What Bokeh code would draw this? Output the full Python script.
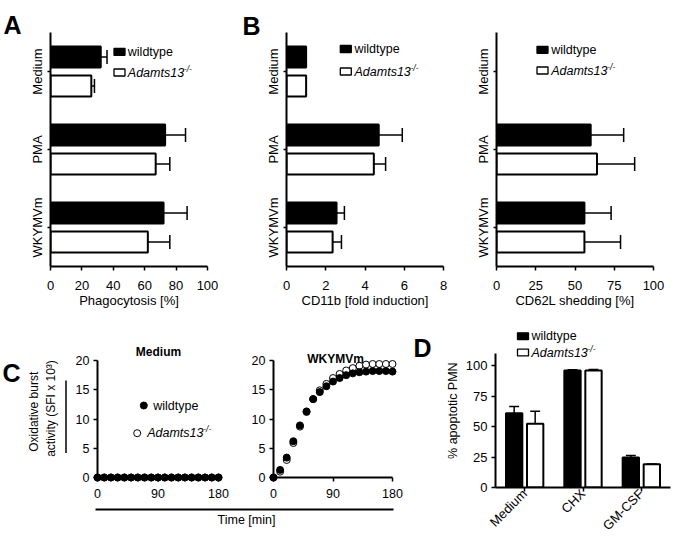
import math
import numpy as np
from bokeh.plotting import figure
from bokeh.models import Range1d, FixedTicker, FactorRange
from bokeh.layouts import row, column
from bokeh.embed import file_html
from bokeh.resources import INLINE
from bokeh.core.properties import value

FONT = "Liberation Sans"

# ---------------- data ----------------
conditions = ["Medium", "PMA", "WKYMVm"]

phago_wt = [32, 73, 72]
phago_wt_err = [4, 13, 15]
phago_ko = [26, 67, 62]
phago_ko_err = [2, 9, 14]

cd11b_wt = [1.0, 4.7, 2.55]
cd11b_wt_err = [0.0, 1.2, 0.4]
cd11b_ko = [1.0, 4.45, 2.35]
cd11b_ko_err = [0.0, 0.6, 0.45]

cd62l_wt = [None, 60, 56]
cd62l_wt_err = [None, 21, 17]
cd62l_ko = [None, 64, 56]
cd62l_ko_err = [None, 24, 23]

time_min = [0, 10, 20, 30, 40, 50, 60, 70, 80, 90, 100, 110, 120, 130, 140, 150, 160, 170, 180]
medium_wt = [0, 0, 0, 0, 0, 0, 0, 0, 0, 0, 0, 0, 0, 0, 0, 0, 0, 0, 0]
medium_ko = [0, 0, 0, 0, 0, 0, 0, 0, 0, 0, 0, 0, 0, 0, 0, 0, 0, 0, 0]
wkymvm_wt = [0, 1.3, 3.4, 6.2, 8.9, 11.3, 13.4, 14.6, 15.6, 16.4, 17.0, 17.5, 17.8, 18.0, 18.1, 18.2, 18.2, 18.2, 18.1]
wkymvm_ko = [0, 1.0, 3.0, 5.9, 8.7, 11.2, 13.4, 14.9, 16.0, 17.0, 17.7, 18.3, 18.7, 19.1, 19.3, 19.4, 19.4, 19.4, 19.4]

apop_cats = ["Medium", "CHX", "GM-CSF"]
apop_wt = [61, 96, 24.7]
apop_wt_err = [5.4, 0.6, 1.6]
apop_ko = [52.3, 96, 19]
apop_ko_err = [10.3, 0.8, 0.3]

ticks_pct = [0, 20, 40, 60, 80, 100]
ticks_fold = [0, 2, 4, 6, 8]
ticks_shed = [0, 25, 50, 75, 100]
ticks_time = [0, 90, 180]
ticks_burst = [0, 5, 10, 15, 20]
ticks_apop = [0, 25, 50, 75, 100]


# ---------------- helpers ----------------
class Conv:
    """page pixel -> data coordinate for a figure whose frame position is known"""
    def __init__(self, px0, px1, x0, x1, py0, py1, y0, y1):
        self.a = (px0, px1, x0, x1, py0, py1, y0, y1)

    def __call__(self, px, py):
        px0, px1, x0, x1, py0, py1, y0, y1 = self.a
        return (x0 + (px - px0) * (x1 - x0) / (px1 - px0),
                y0 + (py - py0) * (y1 - y0) / (py1 - py0))


def make_fig(ox, oy, width, height, fx0, fx1, fy0, fy1, x_range, y_range):
    p = figure(width=width, height=height, x_range=x_range, y_range=y_range,
               output_backend="svg", toolbar_location=None,
               min_border_left=fx0 - ox, min_border_right=ox + width - fx1,
               min_border_top=fy0 - oy, min_border_bottom=oy + height - fy1)
    p.outline_line_color = None
    p.background_fill_color = "white"
    p.border_fill_color = "white"
    return p


def aux_fig(ox, oy, width, height):
    p = figure(width=width, height=height, x_range=Range1d(ox, ox + width),
               y_range=Range1d(oy + height, oy), output_backend="svg",
               toolbar_location=None, x_axis_type=None, y_axis_type=None,
               min_border=0, min_border_left=0, min_border_right=0,
               min_border_top=0, min_border_bottom=0)
    p.outline_line_color = None
    return p


def style_axis(ax, tick_out, standoff, size):
    ax.axis_line_width = 2
    ax.axis_line_color = "black"
    ax.major_tick_line_width = 1.5
    ax.major_tick_line_color = "black"
    ax.major_tick_out = tick_out
    ax.major_tick_in = 0
    ax.minor_tick_line_color = None
    ax.major_label_text_font = FONT
    ax.major_label_text_font_size = size
    ax.major_label_text_color = "black"
    ax.major_label_standoff = standoff
    ax.axis_label_text_font = FONT
    ax.axis_label_text_font_size = "13px"
    ax.axis_label_text_font_style = "normal"
    ax.axis_label_text_color = "black"


def txt(p, conv, px, py, text, size="12.5px", style="normal", align="left",
        baseline="middle", angle=0.0):
    x, y = conv(px, py)
    r = p.text(x=[x], y=[y], text=[text], text_font=value(FONT),
               text_font_size=value(size), text_font_style=value(style),
               text_align=value(align), text_baseline=value(baseline),
               angle=angle, text_color="black")
    r.level = "overlay"


def key_box(p, conv, cx, cy, fill):
    l, t = conv(cx - 5.5, cy - 3.5)
    r, b = conv(cx + 5.5, cy + 3.5)
    g = p.quad(left=[l], right=[r], top=[t], bottom=[b], fill_color=fill,
               line_color="black", line_width=1.3)
    g.level = "overlay"


def ko_label(p, conv, px, py, size="12.5px", sup_dx=56.0):
    txt(p, conv, px, py, "Adamts13", size, style="italic")
    txt(p, conv, px + sup_dx, py - 4, "-/-", "8.5px", style="italic")


# ---------------- top row: horizontal bar panels ----------------
TOP_Y, TOP_H = 0, 312
FY0, FY1 = 32, 266


def bar_panel(ox, width, fx0, xmax, xticks, xlabel, wt, wt_err, ko, ko_err,
              key_x, key_y1, key_y2, text_x):
    fx1 = fx0 + 157
    p = make_fig(ox, TOP_Y, width, TOP_H, fx0, fx1, FY0, FY1,
                 Range1d(0, xmax), Range1d(2.5, -0.5))
    conv = Conv(fx0, fx1, 0, xmax, FY0, FY1, -0.5, 2.5)
    for vals, errs, off, fill in ((wt, wt_err, -0.185, "black"), (ko, ko_err, 0.185, "white")):
        rows = [i for i, v in enumerate(vals) if v is not None]
        ys = [i + off for i in rows]
        vs = [vals[i] for i in rows]
        p.hbar(y=ys, left=0, right=vs, height=0.27, fill_color=fill,
               line_color="black", line_width=2)
        er = [i for i in rows if errs[i]]
        lo = [vals[i] for i in er]
        hi = [vals[i] + errs[i] for i in er]
        ye = [i + off for i in er]
        p.segment(x0=lo, y0=ye, x1=hi, y1=ye, line_color="black", line_width=1.5)
        p.segment(x0=hi, y0=[y - 0.09 for y in ye], x1=hi, y1=[y + 0.09 for y in ye],
                  line_color="black", line_width=1.5)
    xa, ya = p.xaxis[0], p.yaxis[0]
    style_axis(xa, 4, 10, "13px")
    style_axis(ya, 3, 3, "13px")
    xa.ticker = FixedTicker(ticks=xticks)
    xa.axis_label = xlabel
    xa.axis_label_standoff = 0
    ya.ticker = FixedTicker(ticks=list(range(len(conditions))))
    ya.major_label_overrides = {i: c for i, c in enumerate(conditions)}
    ya.major_label_orientation = "vertical"
    p.xgrid.grid_line_color = None
    p.ygrid.grid_line_color = None
    key_box(p, conv, key_x, key_y1, "black")
    key_box(p, conv, key_x, key_y2, "white")
    txt(p, conv, text_x, key_y1, "wildtype")
    ko_label(p, conv, text_x, key_y2)
    return p, conv


pA, convA = bar_panel(0, 222, 50, 100, ticks_pct, "Phagocytosis [%]",
                      phago_wt, phago_wt_err, phago_ko, phago_ko_err, 119, 51.3, 72, 127.3)
txt(pA, convA, 3, 24.5, "A", "25px", "bold", baseline="alphabetic")

pB1, convB1 = bar_panel(222, 234, 286, 8, ticks_fold, "CD11b [fold induction]",
                        cd11b_wt, cd11b_wt_err, cd11b_ko, cd11b_ko_err, 345.3, 48.5, 71, 354)
txt(pB1, convB1, 242, 25, "B", "25px", "bold", baseline="alphabetic")

pB2, convB2 = bar_panel(456, 218, 496, 100, ticks_shed, "CD62L shedding [%]",
                        cd62l_wt, cd62l_wt_err, cd62l_ko, cd62l_ko_err, 542, 49.3, 70, 550.7)

# ---------------- bottom row ----------------
BOT_Y = TOP_Y + TOP_H          # 312
BOT_H = 541 - BOT_Y            # 229

# left strip with panel letter and y title of C
cleft = aux_fig(0, BOT_Y, 72, BOT_H)
ident = lambda px, py: (px, py)
txt(cleft, ident, 2, 345, "C", "25px", "bold", baseline="alphabetic")
cleft.segment(x0=[65.5], y0=[358], x1=[65.5], y1=[482], line_color="black", line_width=1.5)
txt(cleft, ident, 33, 411.5, "Oxidative burst", "12px", align="center", angle=math.pi / 2)
txt(cleft, ident, 50, 406, "activity (SFI x 10\u00b3)", "12px", align="center", angle=math.pi / 2)

C_H = 505 - BOT_Y


def burst_panel(ox, width, fx0, fx1, title, title_xy, wt, ko):
    p = make_fig(ox, BOT_Y, width, C_H, fx0, fx1, 360, 477, Range1d(0, 180), Range1d(0, 20))
    conv = Conv(fx0, fx1, 0, 180, 360, 477, 20, 0)
    r1 = p.scatter(time_min, ko, marker="circle", size=7, fill_color="white",
                   line_color="black", line_width=1)
    r2 = p.scatter(time_min, wt, marker="circle", size=7, fill_color="black",
                   line_color="black", line_width=1)
    r1.level = "overlay"
    r2.level = "overlay"
    xa, ya = p.xaxis[0], p.yaxis[0]
    style_axis(xa, 4, 7, "12.5px")
    style_axis(ya, 4, 4, "12.5px")
    xa.ticker = FixedTicker(ticks=ticks_time)
    ya.ticker = FixedTicker(ticks=ticks_burst)
    p.xgrid.grid_line_color = None
    p.ygrid.grid_line_color = None
    txt(p, conv, title_xy[0], title_xy[1], title, "12px", "bold", align="center")
    return p, conv


c1, convC1 = burst_panel(72, 166, 97, 218, "Medium", (158, 351), medium_wt, medium_ko)
c2, convC2 = burst_panel(238, 167, 273, 392, "WKYMVm", (335, 358), wkymvm_wt, wkymvm_ko)

# legend of C (inside the Medium plot)
for (px, py), fill in (((143.3, 405), "black"), ((136.7, 432.7), "white")):
    x, y = convC1(px, py)
    g = c1.scatter([x], [y], marker="circle", size=7, fill_color=fill,
                   line_color="black", line_width=1)
    g.level = "overlay"
txt(c1, convC1, 152.7, 405, "wildtype")
ko_label(c1, convC1, 146.7, 432.7)

cbot = aux_fig(72, 505, 333, 36)
cbot.segment(x0=[95], y0=[509], x1=[393], y1=[509], line_color="black", line_width=2)
txt(cbot, ident, 246, 519.5, "Time [min]", "12.5px", align="center")

# panel D
pD = make_fig(405, BOT_Y, 269, BOT_H, 495, 670, 353, 489,
              FactorRange(*apop_cats), Range1d(0, 110))
convD = Conv(495, 670, 0, 3, 353, 489, 110, 0)
centers = np.arange(len(apop_cats)) + 0.5
for vals, errs, off, fill in ((apop_wt, apop_wt_err, -0.18, "black"),
                              (apop_ko, apop_ko_err, 0.18, "white")):
    xs = centers + off
    pD.vbar(x=xs, bottom=0, top=vals, width=0.28, fill_color=fill,
            line_color="black", line_width=2)
    hi = [v + e for v, e in zip(vals, errs)]
    pD.segment(x0=xs, y0=vals, x1=xs, y1=hi, line_color="black", line_width=1.5)
    pD.segment(x0=xs - 0.085, y0=hi, x1=xs + 0.085, y1=hi, line_color="black", line_width=1.5)
xa, ya = pD.xaxis[0], pD.yaxis[0]
style_axis(xa, 4, 0, "13px")
style_axis(ya, 4, 4, "13px")
ya.ticker = FixedTicker(ticks=ticks_apop)
xa.major_label_orientation = math.pi / 4
pD.xgrid.grid_line_color = None
pD.ygrid.grid_line_color = None
txt(pD, convD, 452, 411, "% apoptotic PMN", "12.5px", align="center", angle=math.pi / 2)
txt(pD, convD, 413, 347, "D", "25px", "bold", baseline="alphabetic")
key_box(pD, convD, 522.5, 335.5, "black")
key_box(pD, convD, 522.5, 352, "white")
txt(pD, convD, 531, 335.5, "wildtype")
ko_label(pD, convD, 531, 352)

layout = column(
    row(pA, pB1, pB2, spacing=0),
    row(cleft, column(row(c1, c2, spacing=0), cbot, spacing=0), pD, spacing=0),
    spacing=0,
)

open("out.html", "w").write(file_html(layout, INLINE))
